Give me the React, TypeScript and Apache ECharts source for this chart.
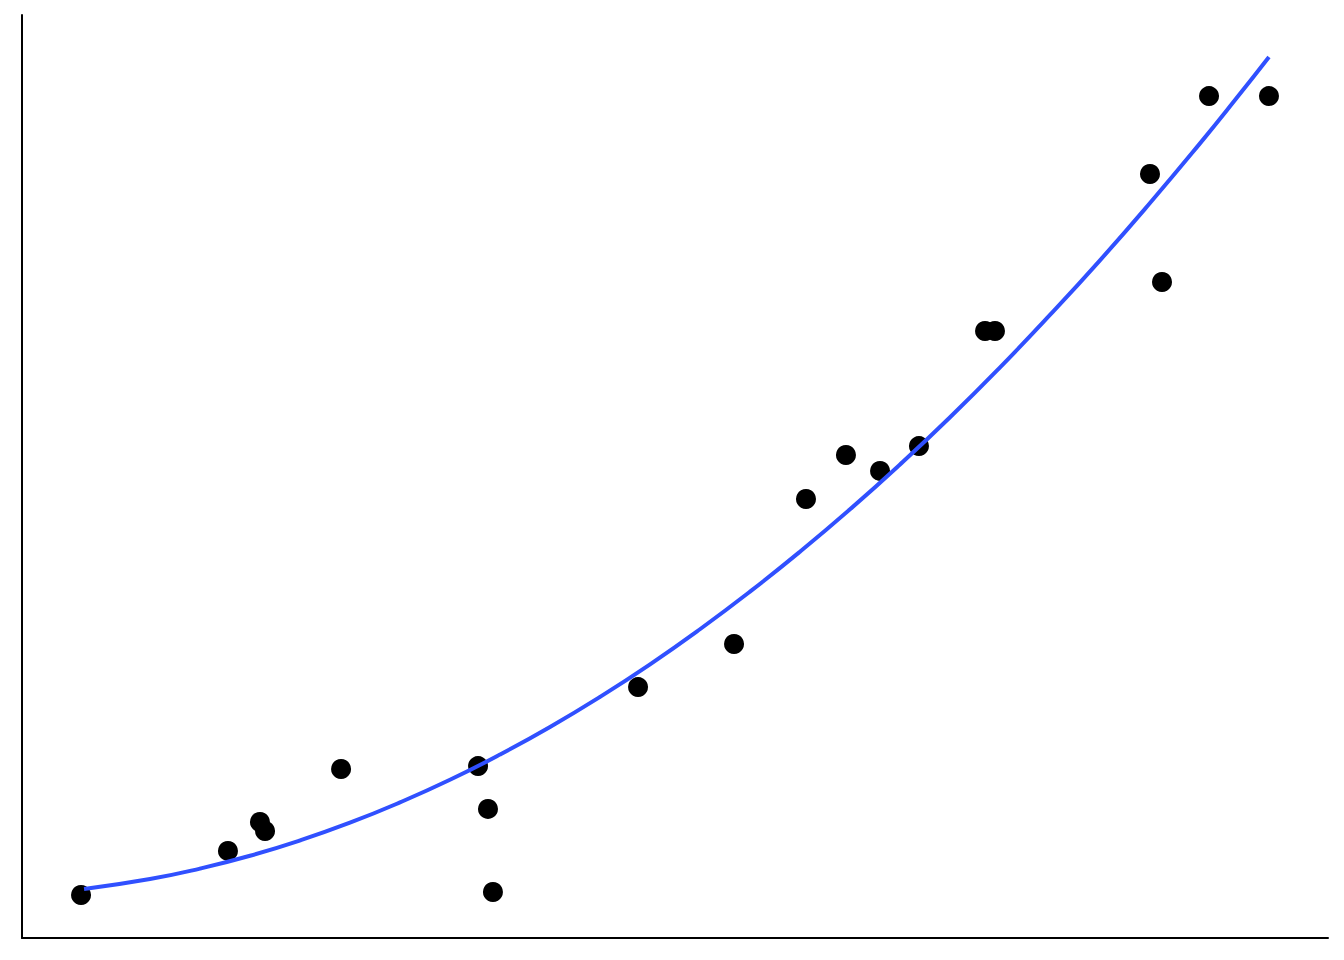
import React, { useEffect, useRef } from "react";
import * as echarts from "echarts";

const pointX = [4.52, 15.77, 18.22, 18.61, 24.43, 34.92, 35.68, 36.06, 47.17, 54.52, 60.03, 63.09, 65.7, 68.68, 73.74, 74.5, 86.37, 87.29, 90.89, 95.48];
const pointY = [4.66, 9.43, 12.57, 11.59, 18.31, 18.63, 13.98, 4.98, 27.19, 31.85, 47.56, 52.33, 50.6, 53.3, 65.76, 65.76, 82.77, 71.07, 91.22, 91.22];

const fitX = [4.75, 9.8, 13.63, 17.46, 21.29, 25.11, 28.94, 32.77, 36.6, 40.43, 44.26, 48.09, 51.91, 55.74, 59.57, 63.4, 67.23, 71.06, 74.89, 78.71, 82.54, 86.37, 90.2, 92.88, 95.48];
const fitY = [5.31, 6.39, 7.52, 8.91, 10.57, 12.49, 14.69, 17.14, 19.87, 22.86, 26.12, 29.65, 33.45, 37.52, 41.85, 46.44, 51.3, 56.42, 61.83, 67.5, 73.42, 79.63, 86.09, 90.78, 95.45];

export default function App() {
  const ref = useRef<HTMLDivElement>(null);
  useEffect(() => {
    if (!ref.current) return;
    const chart = echarts.init(ref.current, null, { renderer: "svg" });
    chart.setOption({
      animation: false,
      backgroundColor: "#ffffff",
      grid: { left: 22, right: 16, top: 15, bottom: 22, containLabel: false },
      xAxis: {
        type: "value",
        min: 0,
        max: 100,
        axisLine: { show: true, lineStyle: { color: "#000", width: 2 } },
        axisTick: { show: false },
        axisLabel: { show: false },
        splitLine: { show: false },
      },
      yAxis: {
        type: "value",
        min: 0,
        max: 100,
        axisLine: { show: true, lineStyle: { color: "#000", width: 2 } },
        axisTick: { show: false },
        axisLabel: { show: false },
        splitLine: { show: false },
      },
      series: [
        {
          type: "scatter",
          data: pointX.map((x, i) => [x, pointY[i]]),
          symbolSize: 20,
          itemStyle: { color: "#000", opacity: 1 },
          z: 2,
        },
        {
          type: "line",
          data: fitX.map((x, i) => [x, fitY[i]]),
          smooth: true,
          showSymbol: false,
          lineStyle: { color: "#3050FF", width: 4 },
          z: 3,
        },
      ],
    });
    return () => chart.dispose();
  }, []);
  return (
    <div
      ref={ref}
      style={{ position: "fixed", left: 0, top: 0, width: 1344, height: 960 }}
    />
  );
}
